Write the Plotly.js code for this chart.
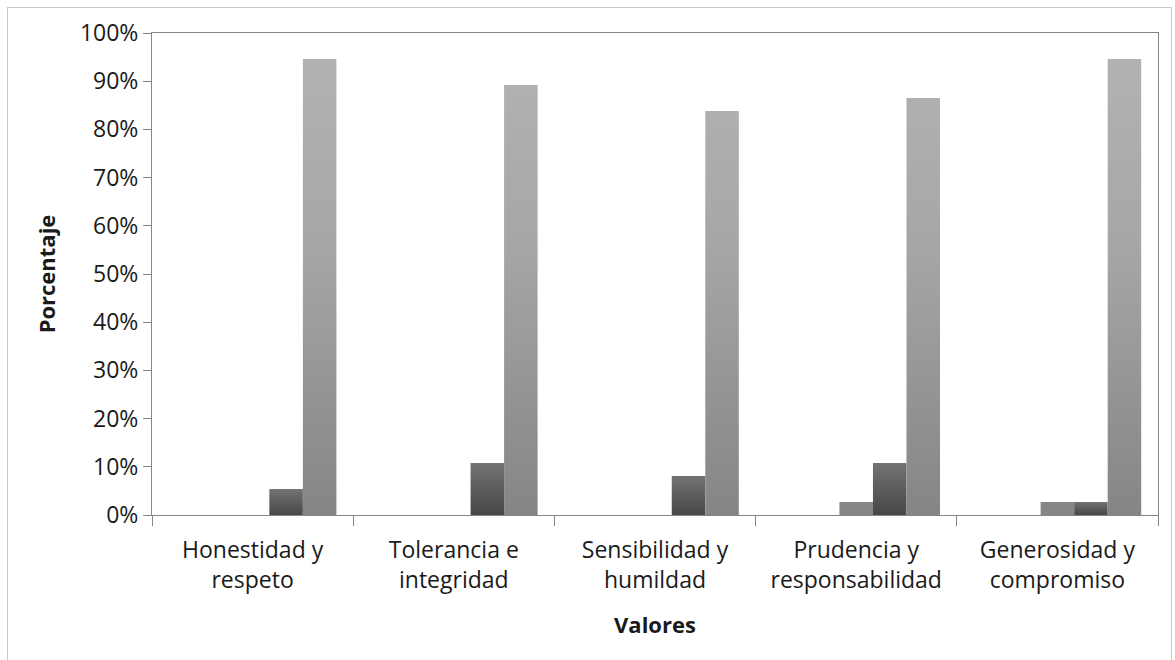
<!DOCTYPE html>
<html>
<head>
<meta charset="utf-8">
<script src="https://cdn.plot.ly/plotly-3.0.1.min.js"></script>
<style>
  html, body { margin: 0; padding: 0; background: #fff; }
  #wrap { position: relative; width: 1175px; height: 660px; overflow: hidden; }
  #chart { position: absolute; left: 0; top: 0; width: 1175px; height: 660px; }
  #frame { position: absolute; left: 7px; top: 7px; width: 1165px; height: 700px;
           border: 1px solid #c8c8c8; pointer-events: none; box-sizing: border-box; }
</style>
</head>
<body>
<div id="wrap">
  <div id="chart"></div>
  <div id="frame"></div>
</div>
<script>
// Categories (values)
const categories = [
  "Honestidad y<br>respeto",
  "Tolerancia e<br>integridad",
  "Sensibilidad y<br>humildad",
  "Prudencia y<br>responsabilidad",
  "Generosidad y<br>compromiso"
];
// Series (percentages)
const serie1 = [0, 0, 0, 0, 0];
const serie2 = [0, 0, 0, 0, 0];
const serie3 = [0, 0, 0, 2.7, 2.7];
const serie4 = [5.4, 10.8, 8.1, 10.8, 2.7];
const serie5 = [94.6, 89.2, 83.8, 86.5, 94.6];
const seriesNames = ["Nunca", "Casi nunca", "A veces", "Casi siempre", "Siempre"];
const yTicks = [0, 10, 20, 30, 40, 50, 60, 70, 80, 90, 100];

const FONT = "Open Sans, Noto Sans, sans-serif";
const FS = 23;
const LIGHT = "#9e9e9e", DARK = "#5a5a5a";
const seriesData = [serie1, serie2, serie3, serie4, serie5];
const colors = [LIGHT, DARK, LIGHT, DARK, LIGHT];

const traces = seriesData.map((vals, i) => ({
  type: "bar",
  name: seriesNames[i],
  x: categories,
  y: vals,
  marker: { color: colors[i], line: { width: 0 } },
  hovertemplate: "%{y:.1f}%<extra>" + seriesNames[i] + "</extra>"
}));

const axisColor = "#868686";
const layout = {
  width: 1175, height: 660,
  margin: { l: 152, r: 17, t: 33, b: 145 },
  paper_bgcolor: "#ffffff", plot_bgcolor: "#ffffff",
  showlegend: false,
  barmode: "group",
  bargap: 0.167,
  bargroupgap: 0,
  font: { family: FONT, size: FS, color: "#1a1a1a" },
  xaxis: {
    type: "category",
    showline: true, linecolor: axisColor, linewidth: 1,
    ticks: "outside", tickson: "boundaries", ticklen: 10, tickcolor: axisColor,
    ticklabelstandoff: 14,
    tickfont: { family: FONT, size: FS, color: "#1a1a1a" },
    showgrid: false, zeroline: false, mirror: true,
    title: { text: "<b>Valores</b>", font: { family: FONT, size: FS - 1, color: "#1a1a1a" }, standoff: 24 }
  },
  yaxis: {
    range: [0, 100],
    tickvals: yTicks,
    ticktext: yTicks.map(v => v + "%"),
    showline: true, linecolor: axisColor, linewidth: 1, mirror: true,
    ticks: "outside", ticklen: 8, tickcolor: axisColor,
    tickfont: { family: FONT, size: FS, color: "#1a1a1a" },
    showgrid: false, zeroline: false,
    title: { text: "<b>Porcentaje</b>", font: { family: FONT, size: FS - 1, color: "#1a1a1a" }, standoff: 18 }
  }
};

Plotly.newPlot("chart", traces, layout, { displayModeBar: false }).then(gd => {
  const svg = gd.querySelector("svg.main-svg");
  const ns = "http://www.w3.org/2000/svg";
  const h = gd._fullLayout._size.h;
  const defs = document.createElementNS(ns, "defs");
  defs.innerHTML =
    '<linearGradient id="gLight" gradientUnits="userSpaceOnUse" x1="0" y1="0" x2="0" y2="' + h + '">' +
      '<stop offset="0" stop-color="#b4b4b4"/><stop offset="0.45" stop-color="#a6a6a6"/>' +
      '<stop offset="1" stop-color="#858585"/></linearGradient>' +
    '<linearGradient id="gDark" x1="0" y1="0" x2="0" y2="1">' +
      '<stop offset="0" stop-color="#737373"/><stop offset="1" stop-color="#474747"/></linearGradient>';
  svg.insertBefore(defs, svg.firstChild);
  const tr = gd.querySelectorAll(".barlayer .trace");
  tr.forEach((t, i) => {
    t.querySelectorAll("path").forEach(p => {
      p.style.fill = (i % 2 === 0) ? "url(#gLight)" : "url(#gDark)";
    });
  });
});
</script>
</body>
</html>
